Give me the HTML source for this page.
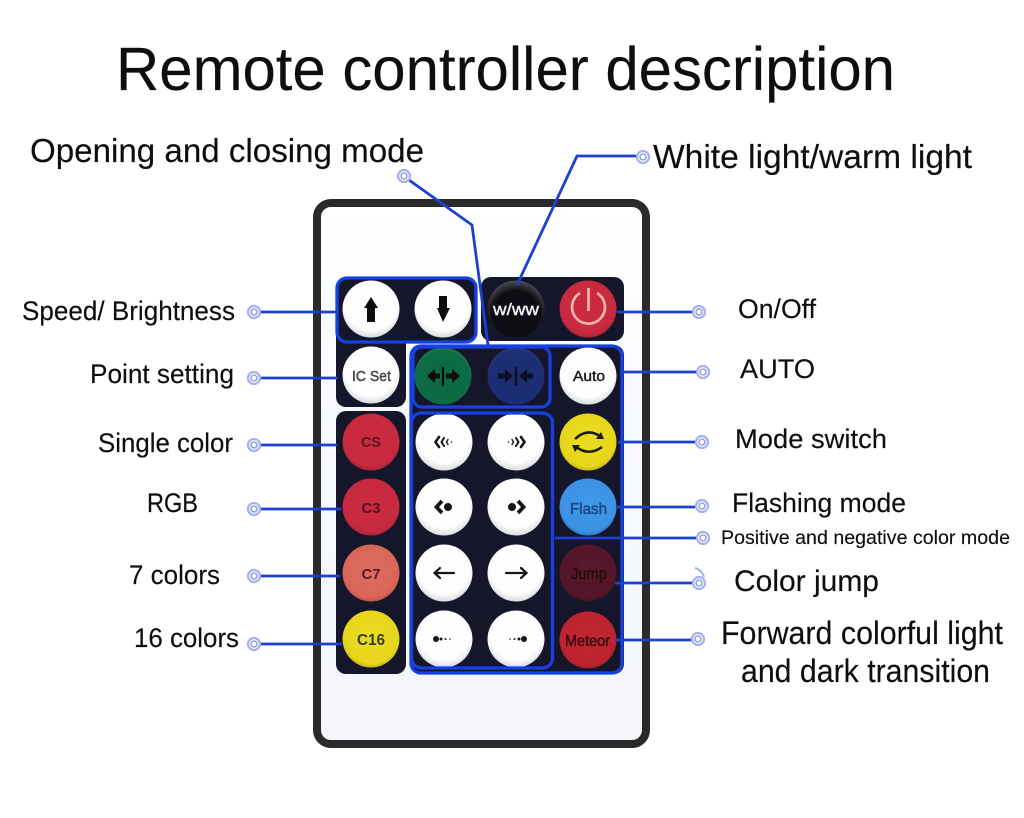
<!DOCTYPE html>
<html lang="en">
<head>
<meta charset="utf-8">
<title>Remote controller description</title>
<style>
html,body{margin:0;padding:0;background:#fff}
svg{display:block}
text{font-family:"Liberation Sans",Arial,sans-serif}
.l text{fill:#0e0e0e;stroke:#0e0e0e;stroke-width:.15}
.b{text-anchor:middle;font-weight:bold}
</style>
</head>
<body>
<svg xmlns="http://www.w3.org/2000/svg" width="1024" height="818" viewBox="0 0 1024 818">
<defs>
<filter id="s" x="-2%" y="-2%" width="104%" height="104%"><feGaussianBlur stdDeviation="0.3"/></filter>
<linearGradient id="body" x1="0" y1="0" x2="0" y2="1"><stop offset="0" stop-color="#fff"/><stop offset="0.5" stop-color="#f5f8fd"/><stop offset="1" stop-color="#f4f6fb"/></linearGradient>
<radialGradient id="w" cx="50%" cy="40%" r="62%"><stop offset="0" stop-color="#fff"/><stop offset="0.76" stop-color="#fdfdfd"/><stop offset="1" stop-color="#d4d6da"/></radialGradient>
<radialGradient id="r" cx="50%" cy="45%" r="60%"><stop offset="0" stop-color="#cb2a3e"/><stop offset="0.8" stop-color="#c72a40"/><stop offset="1" stop-color="#96202f"/></radialGradient>
<radialGradient id="c7" cx="50%" cy="45%" r="60%"><stop offset="0" stop-color="#dc6c60"/><stop offset="0.8" stop-color="#d96557"/><stop offset="1" stop-color="#a84a44"/></radialGradient>
<radialGradient id="y" cx="50%" cy="45%" r="60%"><stop offset="0" stop-color="#ebdc22"/><stop offset="0.8" stop-color="#e6d61e"/><stop offset="1" stop-color="#ae9f1c"/></radialGradient>
<radialGradient id="g" cx="50%" cy="55%" r="60%"><stop offset="0" stop-color="#0c6a44"/><stop offset="0.8" stop-color="#0e6c46"/><stop offset="1" stop-color="#2d7d60"/></radialGradient>
<radialGradient id="bl" cx="50%" cy="55%" r="60%"><stop offset="0" stop-color="#1b2c70"/><stop offset="0.8" stop-color="#1d2e74"/><stop offset="1" stop-color="#36447e"/></radialGradient>
<radialGradient id="k" cx="50%" cy="60%" r="62%"><stop offset="0" stop-color="#0c0c10"/><stop offset="0.7" stop-color="#111116"/><stop offset="1" stop-color="#55565e"/></radialGradient>
<radialGradient id="f" cx="50%" cy="45%" r="60%"><stop offset="0" stop-color="#4098e8"/><stop offset="0.8" stop-color="#3d92e4"/><stop offset="1" stop-color="#2b6cae"/></radialGradient>
<radialGradient id="j" cx="50%" cy="45%" r="60%"><stop offset="0" stop-color="#5a1a2e"/><stop offset="0.8" stop-color="#541829"/><stop offset="1" stop-color="#2e101b"/></radialGradient>
<radialGradient id="m" cx="50%" cy="45%" r="60%"><stop offset="0" stop-color="#c2262f"/><stop offset="0.8" stop-color="#bd242e"/><stop offset="1" stop-color="#8a1b24"/></radialGradient>
</defs>
<rect width="1024" height="818" fill="#fff"/>

<g filter="url(#s)">
<!-- body -->
<rect x="317" y="203" width="329" height="541" rx="14" fill="url(#body)" stroke="#2a2a2c" stroke-width="8"/>
<!-- panels -->
<g fill="#12162a">
<rect x="336" y="277" width="141" height="66" rx="10"/>
<rect x="481" y="277" width="143" height="64" rx="10"/>
<path d="M336 335H406V397a10 10 0 0 1-10 10H346a10 10 0 0 1-10-10Z"/>
<rect x="336" y="411" width="70" height="263" rx="10"/>
<rect x="410" y="345" width="214" height="329" rx="10"/>
</g>
<!-- buttons -->
<circle cx="371" cy="309" r="28.5" fill="url(#w)"/>
<circle cx="443" cy="309" r="28.5" fill="url(#w)"/>
<circle cx="516" cy="309" r="28.5" fill="url(#k)"/>
<circle cx="588" cy="309" r="28.5" fill="url(#r)"/>
<circle cx="371" cy="375" r="28.5" fill="url(#w)"/>
<circle cx="443" cy="376" r="28.5" fill="url(#g)"/>
<circle cx="516" cy="376" r="28.5" fill="url(#bl)"/>
<circle cx="588" cy="376" r="28.5" fill="url(#w)"/>
<circle cx="371" cy="442" r="28.5" fill="url(#r)"/>
<circle cx="371" cy="507" r="28.5" fill="url(#r)"/>
<circle cx="371" cy="573" r="28.5" fill="url(#c7)"/>
<circle cx="371" cy="639" r="28.5" fill="url(#y)"/>
<circle cx="444" cy="442" r="28.5" fill="url(#w)"/>
<circle cx="516" cy="442" r="28.5" fill="url(#w)"/>
<circle cx="444" cy="507" r="28.5" fill="url(#w)"/>
<circle cx="516" cy="507" r="28.5" fill="url(#w)"/>
<circle cx="444" cy="573" r="28.5" fill="url(#w)"/>
<circle cx="516" cy="573" r="28.5" fill="url(#w)"/>
<circle cx="444" cy="639" r="28.5" fill="url(#w)"/>
<circle cx="516" cy="639" r="28.5" fill="url(#w)"/>
<circle cx="588" cy="442" r="28.5" fill="url(#y)"/>
<circle cx="588" cy="507" r="28.5" fill="url(#f)"/>
<circle cx="588" cy="573" r="28.5" fill="url(#j)"/>
<circle cx="588" cy="640" r="28.5" fill="url(#m)"/>

<!-- icons -->
<path d="M371 297L378 308H375V322H367V308H364Z" fill="#111"/>
<path d="M439 296H447V308H450L443 322L437 308H439Z" fill="#111"/>
<path d="M580 293A16.5 16.5 0 1 0 597 293" fill="none" stroke="#f2b6b4" stroke-width="2.6"/>
<path d="M588.5 288V311" stroke="#f2b6b4" stroke-width="2.6"/>
<!-- green -->
<g fill="#0a0f0c" stroke="#0a0f0c">
<path d="M443 367V386" stroke-width="2.200"/>
<path d="M440 376H432" stroke-width="5"/><path d="M435 369L427 376L435 383Z" stroke="none"/>
<path d="M446 376H454" stroke-width="5"/><path d="M452 369L460 376L452 383Z" stroke="none"/>
</g>
<!-- blue -->
<g fill="#0b0f24" stroke="#0b0f24">
<path d="M516 367V386" stroke-width="2.200"/>
<path d="M498 376H506" stroke-width="5"/><path d="M505 369L513 376L505 383Z" stroke="none"/>
<path d="M533 376H526" stroke-width="5"/><path d="M527 369L519 376L527 383Z" stroke="none"/>
</g>
<!-- white icons row 1 -->
<g fill="none" stroke="#141414" stroke-linecap="round">
<path d="M439 437L435.5 442L439 447" stroke-width="2.600"/>
<path d="M444 438L441.5 442L444 446" stroke-width="2"/>
<path d="M448 439.5L446.5 442L448 444.5" stroke-width="1.400"/>
<path d="M521 437L524.5 442L521 447" stroke-width="2.600"/>
<path d="M516 438L518.5 442L516 446" stroke-width="2"/>
<path d="M512 439.5L513.5 442L512 444.5" stroke-width="1.400"/>
<!-- row 2 -->
<path d="M442 501L436.500 507L442 513" stroke-width="3.800" stroke-linecap="butt"/>
<path d="M518 501L523.500 507L518 513" stroke-width="3.800" stroke-linecap="butt"/>
<!-- row 3 -->
<path d="M435 573H454M440 568L434.5 573L440 578" stroke-width="2.200"/>
<path d="M506 573H526M521 568L526.5 573L521 578" stroke-width="2.200"/>
</g>
<g fill="#141414">
<circle cx="448" cy="507" r="4"/><circle cx="512" cy="507" r="4"/>
<circle cx="451.5" cy="442" r="0.8"/><circle cx="508.5" cy="442" r="0.8"/>
<circle cx="436" cy="639" r="3"/><circle cx="441" cy="639" r="1.5"/><circle cx="445.5" cy="639" r="1"/><circle cx="450" cy="639" r="0.8"/>
<circle cx="524" cy="639" r="3"/><circle cx="519" cy="639" r="1.5"/><circle cx="514.5" cy="639" r="1"/><circle cx="510" cy="639" r="0.8"/>
</g>
<!-- mode switch -->
<g fill="none" stroke="#1b1a0c" stroke-width="2.500">
<path d="M575 439Q588 427 601 437"/>
<path d="M575 446Q588 457 602 447"/>
</g>
<path d="M604 439L596 439L601 432Z" fill="#1b1a0c"/>
<path d="M572 445L580 445L575 452Z" fill="#1b1a0c"/>

<!-- button labels -->
<text x="516" y="315" text-anchor="middle" font-size="17" fill="#f2f2f4" stroke="#f2f2f4" stroke-width=".4" textLength="46" lengthAdjust="spacingAndGlyphs">w/ww</text>
<text class="b" x="371.500" y="381" font-size="15" fill="#454548" textLength="39" lengthAdjust="spacingAndGlyphs" style="font-weight:normal;stroke:#454548;stroke-width:.45">IC Set</text>
<text class="b" x="589" y="381" font-size="15" fill="#1c1c1f" textLength="32" lengthAdjust="spacingAndGlyphs" style="font-weight:normal;stroke:#1c1c1f;stroke-width:.45">Auto</text>
<text class="b" x="371" y="447" font-size="15" fill="#571722" textLength="20" lengthAdjust="spacingAndGlyphs">CS</text>
<text class="b" x="371" y="513" font-size="15" fill="#4e141f" textLength="19" lengthAdjust="spacingAndGlyphs">C3</text>
<text class="b" x="371" y="579" font-size="15" fill="#541a1c" textLength="19" lengthAdjust="spacingAndGlyphs">C7</text>
<text class="b" x="371" y="645" font-size="15.500" fill="#3d3a12" textLength="28" lengthAdjust="spacingAndGlyphs">C16</text>
<text class="b" x="588.500" y="514" font-size="16" fill="#1c4a80" textLength="37" lengthAdjust="spacingAndGlyphs" style="font-weight:normal;stroke:#1c4a80;stroke-width:.5">Flash</text>
<text class="b" x="589" y="579" font-size="16" fill="#240810" textLength="36" lengthAdjust="spacingAndGlyphs" style="font-weight:normal;stroke:#240810;stroke-width:.5">Jump</text>
<text class="b" x="587.500" y="646" font-size="16" fill="#3d0a14" textLength="45" lengthAdjust="spacingAndGlyphs" style="font-weight:normal;stroke:#3d0a14;stroke-width:.5">Meteor</text>

<!-- blue outlines -->
<g fill="none" stroke="#1540e0" stroke-width="3.300">
<rect x="337" y="278" width="139" height="64" rx="10"/>
<rect x="411" y="346" width="211" height="327" rx="10"/>
<rect x="413" y="347" width="137" height="60" rx="9"/>
<rect x="411.500" y="413" width="141" height="255" rx="10"/>
</g>
<!-- connectors -->
<g fill="none" stroke="#1a40d2" stroke-width="2.800">
<path d="M409 180L472 225L488 345"/>
<path d="M636 156H577L517 285"/>
<path d="M260 312H337"/>
<path d="M260 378H338"/>
<path d="M260 445H337"/>
<path d="M260 509H341"/>
<path d="M260 576H340"/>
<path d="M260 644H342"/>
<path d="M617 312H693"/>
<path d="M620 372H697"/>
<path d="M618 442H696"/>
<path d="M617 507H696"/>
<path d="M555 538H697"/>
<path d="M615 583H693"/>
<path d="M615 640H692"/>
</g>
<!-- ring markers -->
<g fill="#fff" stroke="#a7b2ee">
<g stroke-width="2.300">
<circle cx="404" cy="176" r="6"/>
<circle cx="254" cy="312" r="6"/>
<circle cx="254" cy="378" r="6"/>
<circle cx="254" cy="445" r="6"/>
<circle cx="254" cy="509" r="6"/>
<circle cx="254" cy="576" r="6"/>
<circle cx="254" cy="644" r="6"/>
<circle cx="643" cy="157" r="6"/>
<circle cx="699" cy="312" r="6"/>
<circle cx="703" cy="372" r="6"/>
<circle cx="702" cy="442" r="6"/>
<circle cx="702" cy="506" r="6"/>
<circle cx="703" cy="538" r="6"/>
<circle cx="699" cy="583" r="6"/>
<circle cx="698" cy="639" r="6"/>
</g>
<g stroke="#8594dc" stroke-width="1.300">
<circle cx="404" cy="176" r="3"/>
<circle cx="254" cy="312" r="3"/>
<circle cx="254" cy="378" r="3"/>
<circle cx="254" cy="445" r="3"/>
<circle cx="254" cy="509" r="3"/>
<circle cx="254" cy="576" r="3"/>
<circle cx="254" cy="644" r="3"/>
<circle cx="643" cy="157" r="3"/>
<circle cx="699" cy="312" r="3"/>
<circle cx="703" cy="372" r="3"/>
<circle cx="702" cy="442" r="3"/>
<circle cx="702" cy="506" r="3"/>
<circle cx="703" cy="538" r="3"/>
<circle cx="699" cy="583" r="3"/>
<circle cx="698" cy="639" r="3"/>
</g>
</g>
<path d="M695 568Q702 570 704 577" fill="none" stroke="#a7b2ee" stroke-width="2"/>
</g>

<!-- labels -->
<g class="l">
<text x="116" y="90" font-size="61" textLength="779" lengthAdjust="spacingAndGlyphs">Remote controller description</text>
<text x="30" y="162" font-size="33.500" textLength="394" lengthAdjust="spacingAndGlyphs">Opening and closing mode</text>
<text x="653" y="168" font-size="33.500" textLength="319" lengthAdjust="spacingAndGlyphs">White light/warm light</text>
<text x="22" y="320" font-size="26.500" textLength="213" lengthAdjust="spacingAndGlyphs">Speed/ Brightness</text>
<text x="90" y="383" font-size="26.500" textLength="144" lengthAdjust="spacingAndGlyphs">Point setting</text>
<text x="98" y="452" font-size="26.500" textLength="135" lengthAdjust="spacingAndGlyphs">Single color</text>
<text x="147" y="512" font-size="26.500" textLength="51" lengthAdjust="spacingAndGlyphs">RGB</text>
<text x="129" y="584" font-size="26.500" textLength="91" lengthAdjust="spacingAndGlyphs">7 colors</text>
<text x="134" y="647" font-size="26.500" textLength="105" lengthAdjust="spacingAndGlyphs">16 colors</text>
<text x="738" y="318" font-size="27" textLength="78" lengthAdjust="spacingAndGlyphs">On/Off</text>
<text x="740" y="378" font-size="27" textLength="75" lengthAdjust="spacingAndGlyphs">AUTO</text>
<text x="735" y="448" font-size="27" textLength="152" lengthAdjust="spacingAndGlyphs">Mode switch</text>
<text x="732" y="512" font-size="27" textLength="174" lengthAdjust="spacingAndGlyphs">Flashing mode</text>
<text x="721" y="544" font-size="19.500" textLength="289" lengthAdjust="spacingAndGlyphs">Positive and negative color mode</text>
<text x="734" y="591" font-size="30" textLength="145" lengthAdjust="spacingAndGlyphs">Color jump</text>
<text x="721" y="644" font-size="32" textLength="282" lengthAdjust="spacingAndGlyphs">Forward colorful light</text>
<text x="741" y="682" font-size="32" textLength="249" lengthAdjust="spacingAndGlyphs">and dark transition</text>
</g>
</svg>
</body>
</html>
